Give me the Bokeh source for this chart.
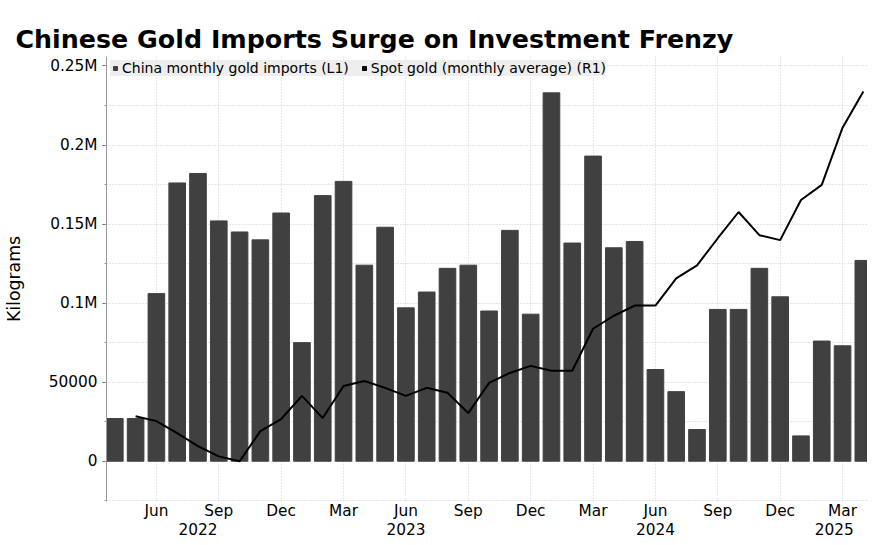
from bokeh.plotting import figure
from bokeh.models import Range1d, LinearAxis, FixedTicker, Legend, LegendItem
from bokeh.embed import file_html
from bokeh.resources import INLINE

months = ["Apr 22","May 22","Jun 22","Jul 22","Aug 22","Sep 22","Oct 22","Nov 22","Dec 22",
          "Jan 23","Feb 23","Mar 23","Apr 23","May 23","Jun 23","Jul 23","Aug 23","Sep 23","Oct 23","Nov 23","Dec 23",
          "Jan 24","Feb 24","Mar 24","Apr 24","May 24","Jun 24","Jul 24","Aug 24","Sep 24","Oct 24","Nov 24","Dec 24",
          "Jan 25","Feb 25","Mar 25","Apr 25"]
imports_kg = [27000,27000,106000,176000,182000,152000,145000,140000,157000,
              75000,168000,177000,124000,148000,97000,107000,122000,124000,95000,146000,93000,
              233000,138000,193000,135000,139000,58000,44000,20000,96000,96000,122000,104000,
              16000,76000,73000,127000]
gold_price = [None,1856,1835,1784,1729,1686,1665,1793,1844,
              1942,1848,1984,2005,1976,1942,1976,1955,1869,1997,2039,2069,
              2048,2048,2226,2281,2324,2324,2439,2494,2609,2720,2622,2601,
              2771,2835,3077,3230]
month_ticks = [2,5,8,11,14,17,20,23,26,29,32,35]
month_tick_labels = ["Jun","Sep","Dec","Mar"]*3
year_ticks = [4,14,26,34.6]
year_labels = ["2022","2023","2024","2025"]

x = list(range(len(months)))
p = figure(width=867, height=537, output_backend="svg", toolbar_location=None,
           x_range=Range1d(-0.4, 36.2), y_range=Range1d(-25500, 256000),
           min_border_left=0, min_border_right=0, min_border_top=56, min_border_bottom=0)
p.title.text = "Chinese Gold Imports Surge on Investment Frenzy"
p.title.text_font = "DejaVu Sans"
p.title.text_font_size = "19pt"
p.title.text_font_style = "bold"
p.title.text_color = "black"
p.title.offset = -91
p.title.standoff = 6
p.outline_line_color = None
p.background_fill_color = "white"

p.extra_y_ranges = {"gold": Range1d(1495, 3378)}

bars = p.vbar(x=x, top=imports_kg, width=0.8, color="#404040")
xs = [i for i, g in zip(x, gold_price) if g is not None]
gs = [g for g in gold_price if g is not None]
line = p.line(xs, gs, y_range_name="gold", color="black", line_width=2)

p.ygrid.ticker = FixedTicker(ticks=[-25000+25000*i for i in range(12)])
p.ygrid.grid_line_color = "#cccccc"
p.ygrid.grid_line_dash = "1 2"
p.xgrid.ticker = FixedTicker(ticks=month_ticks)
p.xgrid.grid_line_color = "#cccccc"
p.xgrid.grid_line_dash = "1 2"

ya = p.yaxis[0]
ya.ticker = FixedTicker(ticks=[0,50000,100000,150000,200000,250000], minor_ticks=[25000*i for i in range(-1,11)])
ya.major_label_overrides = {0:"0",50000:"50000",100000:"0.1M",150000:"0.15M",200000:"0.2M",250000:"0.25M"}
ya.axis_label = "Kilograms"
ya.axis_label_text_font_style = "normal"
ya.axis_label_text_font_size = "13pt"
ya.axis_label_text_color = "black"
ya.major_label_text_font_size = "11.5pt"
ya.major_label_text_color = "black"
ya.axis_line_color = "#999999"
ya.major_tick_line_color = "#666666"
ya.minor_tick_line_color = "#999999"
ya.major_tick_in = 0; ya.major_tick_out = 4
ya.minor_tick_in = 0; ya.minor_tick_out = 2
ya.major_label_text_font = "DejaVu Sans"
ya.axis_label_text_font = "DejaVu Sans"
ya.axis_label_standoff = 22

xa = p.xaxis[0]
xa.ticker = FixedTicker(ticks=month_ticks)
xa.major_label_overrides = {t: l for t, l in zip(month_ticks, month_tick_labels)}
xa.axis_line_color = None
xa.major_tick_line_color = None
xa.minor_tick_line_color = None
xa.major_tick_out = 0
xa.major_label_text_font_size = "11.5pt"
xa.major_label_text_color = "black"
xa.major_label_text_font = "DejaVu Sans"
xa.major_label_standoff = 0

ya2 = LinearAxis(ticker=FixedTicker(ticks=year_ticks))
ya2.major_label_overrides = {t: l for t, l in zip(year_ticks, year_labels)}
ya2.axis_line_color = None
ya2.major_tick_line_color = None
ya2.minor_tick_line_color = None
ya2.major_tick_out = 0
ya2.major_label_text_font_size = "11.5pt"
ya2.major_label_text_color = "black"
ya2.major_label_text_font = "DejaVu Sans"
ya2.major_label_standoff = 0
p.add_layout(ya2, "below")

sq1 = p.scatter([-100], [0], marker="square", size=12, color="#404040")
sq2 = p.scatter([-100], [0], marker="square", size=12, color="black")
leg = Legend(items=[LegendItem(label="China monthly gold imports (L1)", renderers=[sq1]),
                    LegendItem(label="Spot gold (monthly average) (R1)", renderers=[sq2])],
             orientation="horizontal", location="top_left",
             background_fill_color="#eeeeee", background_fill_alpha=1, border_line_color=None,
             label_text_font_size="10.5pt", label_text_font="DejaVu Sans", label_text_color="black",
             glyph_width=10, glyph_height=10,
             label_standoff=2, spacing=10, padding=5, margin=4)
p.add_layout(leg, "center")

open("out.html", "w").write(file_html(p, INLINE))
